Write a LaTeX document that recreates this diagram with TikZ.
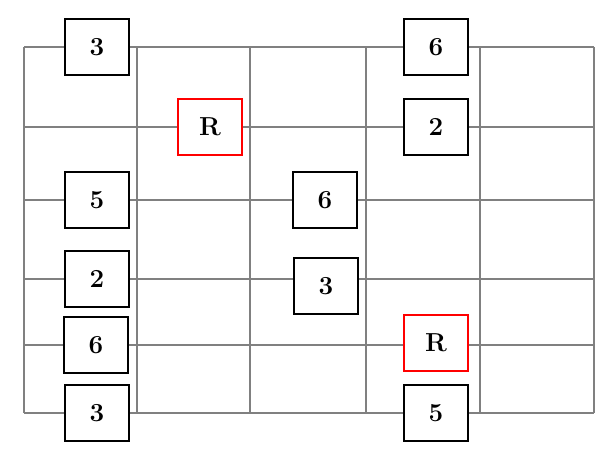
\documentclass[tikz,border=0pt]{standalone}
\usepackage{tikz}
\usetikzlibrary{positioning}
\definecolor{FretGray}{HTML}{808080}

\begin{document}
\begin{tikzpicture}[x=1pt, y=-1pt,
    string/.style={draw=FretGray, line width=2.5pt},
    note/.style={rectangle, draw=black, line width=1.5pt, fill=white,
                 minimum width=64pt, minimum height=56pt,
                 font=\fontsize{26}{30}\selectfont\bfseries},
    root/.style={note, draw=red}
]
    \useasboundingbox (0,0) rectangle (608,460);

    % Strings and frets
    \foreach \y in {47,127,200,279,345,413}
        \draw[string] (24,\y) -- (594,\y);
    \foreach \x in {24,137,250,366,480,594}
        \draw[string] (\x,47) -- (\x,413);

    % Top string
    \node[note] (s1a) at (97,47) {3};
    \node[note] (s1b) at (436,47) {6};

    % Second string
    \node[root] (s2a) at (210,127) {R};
    \node[note] (s2b) at (436,127) {2};

    % Third string
    \node[note] (s3a) at (97,200) {5};
    \node[note] (s3b) at (325,200) {6};

    % Fourth string
    \node[note] (s4a) at (97,279) {2};
    \node[note] (s4b) at (326,286) {3};

    % Fifth string
    \node[note] (s5a) at (96,345) {6};
    \node[root] (s5b) at (436,343) {R};

    % Bottom string
    \node[note] (s6a) at (97,413) {3};
    \node[note] (s6b) at (436,413) {5};
\end{tikzpicture}
\end{document}
